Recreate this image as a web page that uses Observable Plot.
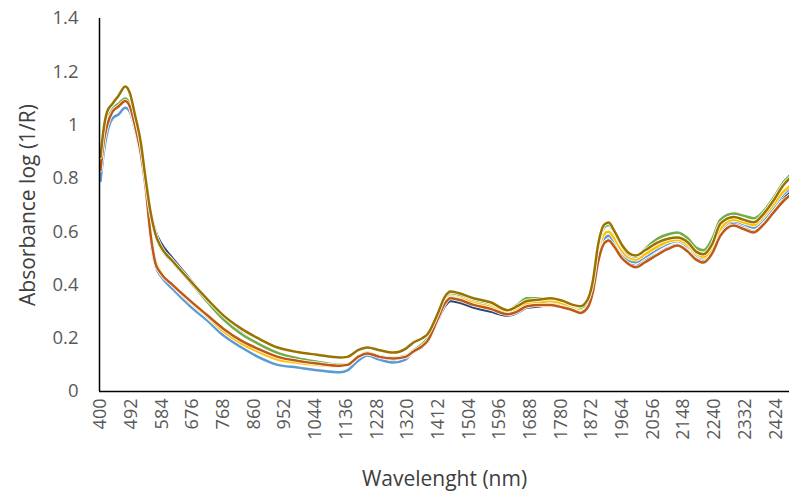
<!DOCTYPE html>
<html>
<head>
<meta charset="utf-8">
<script src="https://cdn.jsdelivr.net/npm/d3@7"></script>
<script src="https://cdn.jsdelivr.net/npm/@observablehq/plot@0.6"></script>
<style>
  html, body { margin: 0; padding: 0; background: #fff; }
  #chart { width: 789px; height: 501px; }
</style>
</head>
<body>
<div id="chart"></div>
<script>
const wavelengths = [400, 410, 420, 436, 454, 474, 488, 503, 520, 535,
  549, 565, 580, 616, 669, 721, 769, 823, 872, 931,
  990, 1049, 1118, 1140, 1172, 1200, 1236, 1278, 1314, 1338,
  1364, 1380, 1410, 1432, 1449, 1472, 1518, 1569, 1620, 1649,
  1678, 1717, 1749, 1786, 1816, 1838, 1860, 1875, 1892, 1909,
  1923, 1939, 1963, 1983, 2004, 2032, 2071, 2101, 2129, 2160,
  2185, 2207, 2234, 2258, 2298, 2327, 2358, 2386, 2416, 2447,
  2465];

const darkBlue = [0.86, 0.96, 1.02, 1.055, 1.07, 1.095, 1.075, 1.01, 0.92, 0.79,
  0.68, 0.60, 0.56, 0.50, 0.42, 0.34, 0.275, 0.22, 0.18, 0.145,
  0.125, 0.11, 0.10, 0.10, 0.128, 0.14, 0.128, 0.12, 0.128, 0.148,
  0.168, 0.188, 0.265, 0.32, 0.34, 0.335, 0.315, 0.30, 0.285, 0.295,
  0.315, 0.32, 0.325, 0.315, 0.305, 0.30, 0.315, 0.37, 0.49, 0.555,
  0.57, 0.548, 0.50, 0.48, 0.47, 0.49, 0.518, 0.538, 0.55, 0.528,
  0.50, 0.49, 0.525, 0.59, 0.63, 0.615, 0.60, 0.63, 0.675, 0.725,
  0.745];

const lightBlue = [0.79, 0.90, 0.97, 1.025, 1.04, 1.065, 1.05, 0.985, 0.89, 0.76,
  0.58, 0.47, 0.435, 0.385, 0.32, 0.265, 0.21, 0.165, 0.13, 0.10,
  0.09, 0.08, 0.072, 0.079, 0.115, 0.135, 0.12, 0.109, 0.12, 0.15,
  0.172, 0.195, 0.275, 0.335, 0.355, 0.35, 0.33, 0.315, 0.295, 0.305,
  0.325, 0.33, 0.335, 0.325, 0.312, 0.305, 0.325, 0.38, 0.51, 0.572,
  0.585, 0.562, 0.515, 0.492, 0.485, 0.505, 0.535, 0.555, 0.565, 0.543,
  0.512, 0.50, 0.535, 0.60, 0.64, 0.628, 0.615, 0.645, 0.69, 0.74,
  0.76];

const yellow = [0.84, 0.95, 1.01, 1.05, 1.07, 1.09, 1.07, 1.0, 0.905, 0.77,
  0.60, 0.49, 0.45, 0.40, 0.335, 0.28, 0.225, 0.18, 0.15, 0.12,
  0.108, 0.10, 0.095, 0.098, 0.13, 0.145, 0.132, 0.126, 0.133, 0.155,
  0.175, 0.198, 0.28, 0.34, 0.365, 0.36, 0.335, 0.32, 0.295, 0.31,
  0.33, 0.335, 0.34, 0.33, 0.318, 0.31, 0.33, 0.39, 0.525, 0.59,
  0.60, 0.577, 0.527, 0.503, 0.495, 0.515, 0.545, 0.563, 0.57, 0.55,
  0.518, 0.505, 0.54, 0.61, 0.645, 0.635, 0.625, 0.655, 0.70, 0.75,
  0.77];

const green = [0.85, 0.96, 1.02, 1.06, 1.08, 1.10, 1.08, 1.01, 0.92, 0.79,
  0.67, 0.585, 0.54, 0.485, 0.41, 0.335, 0.27, 0.215, 0.18, 0.145,
  0.125, 0.112, 0.10, 0.102, 0.13, 0.145, 0.132, 0.126, 0.133, 0.155,
  0.178, 0.20, 0.285, 0.35, 0.37, 0.365, 0.345, 0.33, 0.305, 0.325,
  0.35, 0.35, 0.35, 0.34, 0.325, 0.315, 0.335, 0.40, 0.545, 0.615,
  0.625, 0.60, 0.545, 0.515, 0.505, 0.535, 0.575, 0.59, 0.597, 0.575,
  0.54, 0.53, 0.575, 0.645, 0.668, 0.66, 0.65, 0.675, 0.725, 0.785,
  0.81];

const brown = [0.83, 0.94, 1.00, 1.05, 1.07, 1.09, 1.07, 1.00, 0.90, 0.77,
  0.60, 0.48, 0.445, 0.40, 0.34, 0.285, 0.235, 0.19, 0.16, 0.13,
  0.115, 0.105, 0.097, 0.10, 0.13, 0.143, 0.13, 0.124, 0.13, 0.15,
  0.17, 0.19, 0.27, 0.33, 0.35, 0.345, 0.325, 0.31, 0.29, 0.30,
  0.32, 0.325, 0.325, 0.315, 0.305, 0.295, 0.315, 0.37, 0.49, 0.555,
  0.567, 0.545, 0.50, 0.478, 0.466, 0.485, 0.515, 0.535, 0.548, 0.525,
  0.495, 0.484, 0.52, 0.585, 0.623, 0.61, 0.597, 0.625, 0.67, 0.715,
  0.735];

const olive = [0.88, 0.99, 1.05, 1.08, 1.11, 1.145, 1.12, 1.04, 0.94, 0.80,
  0.68, 0.59, 0.545, 0.49, 0.415, 0.345, 0.285, 0.235, 0.20, 0.165,
  0.148, 0.138, 0.128, 0.13, 0.155, 0.165, 0.155, 0.146, 0.16, 0.184,
  0.20, 0.215, 0.29, 0.355, 0.375, 0.37, 0.35, 0.335, 0.305, 0.32,
  0.34, 0.345, 0.35, 0.34, 0.325, 0.32, 0.345, 0.41, 0.555, 0.625,
  0.634, 0.605, 0.55, 0.52, 0.51, 0.53, 0.56, 0.573, 0.578, 0.56,
  0.525, 0.515, 0.555, 0.63, 0.655, 0.645, 0.635, 0.665, 0.715, 0.775,
  0.80];

const seriesNames = ["Sample 1", "Sample 2", "Sample 3", "Sample 4", "Sample 5", "Sample 6"];
const seriesValues = [darkBlue, lightBlue, yellow, green, brown, olive];
const seriesColors = ["#264478", "#5B9BD5", "#FFC000", "#70AD47", "#BE5A16", "#997300"];

const xTickLabels = [400, 492, 584, 676, 768, 860, 952, 1044, 1136, 1228, 1320, 1412,
  1504, 1596, 1688, 1780, 1872, 1964, 2056, 2148, 2240, 2332, 2424];
const yTickLabels = [0, 0.2, 0.4, 0.6, 0.8, 1, 1.2, 1.4];

const rows = [];
seriesNames.forEach((name, i) => {
  wavelengths.forEach((w, j) => rows.push({series: name, wl: w, v: seriesValues[i][j]}));
});

const lineMarks = [];
seriesNames.forEach((name, i) => {
  const d = rows.filter(r => r.series === name);
  lineMarks.push(Plot.line(d, {x: "wl", y: "v", stroke: "#ffffff", strokeWidth: 4, curve: "monotone-x"}));
  lineMarks.push(Plot.line(d, {x: "wl", y: "v", stroke: seriesColors[i], strokeWidth: 2.5, curve: "monotone-x"}));
});

const chart = Plot.plot({
  width: 789,
  height: 501,
  marginLeft: 99,
  marginRight: 0,
  marginTop: 18,
  marginBottom: 110,
  style: {fontFamily: "'Open Sans', 'Noto Sans', sans-serif", background: "#fff", overflow: "visible"},
  x: {domain: [397, 2465], label: null},
  y: {domain: [0, 1.4], label: null},
  marks: [
    ...lineMarks,
    Plot.ruleY([0], {stroke: "#000", strokeWidth: 1.5}),
    Plot.ruleX([397], {stroke: "#000", strokeWidth: 1.5}),
    Plot.axisX({ticks: xTickLabels, tickRotate: -90, tickSize: 0, tickPadding: 7, fontSize: 18, fill: "#595959", label: null, tickFormat: d => String(d)}),
    Plot.axisY({ticks: yTickLabels, tickSize: 0, tickPadding: 21, fontSize: 18.5, fill: "#595959", label: null, tickFormat: d => String(d)}),
    Plot.text(["Absorbance log (1/R)"], {frameAnchor: "left", textAnchor: "middle", dx: -71, rotate: -90, fontSize: 21, fill: "#404040"}),
    Plot.text(["Wavelenght (nm)"], {frameAnchor: "bottom", textAnchor: "middle", dy: 94, fontSize: 21, fill: "#404040"})
  ]
});
document.getElementById("chart").appendChild(chart);
</script>
</body>
</html>
